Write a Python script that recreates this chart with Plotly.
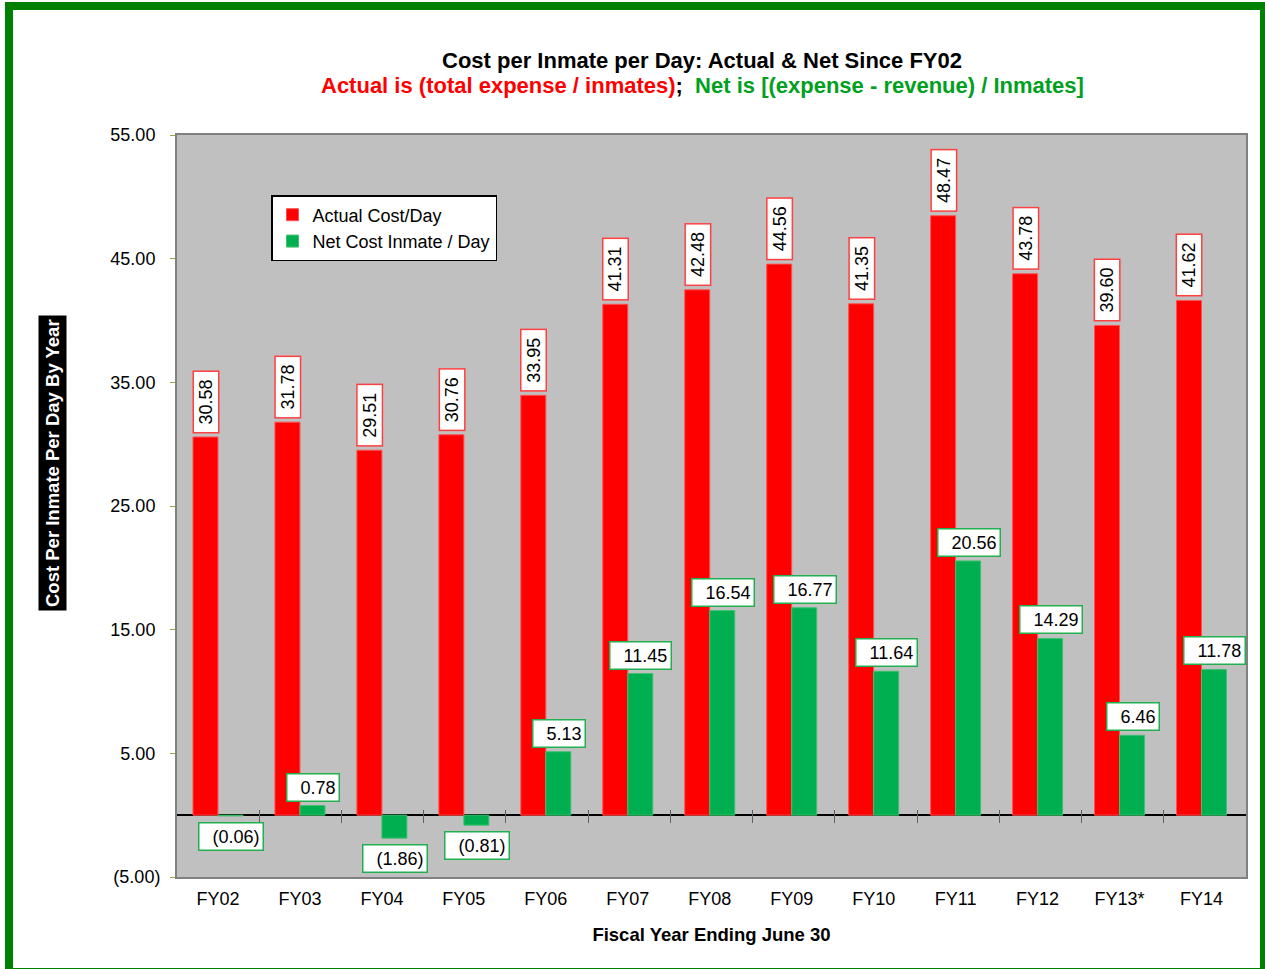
import plotly.graph_objects as go

years = ["FY02", "FY03", "FY04", "FY05", "FY06", "FY07", "FY08", "FY09", "FY10", "FY11", "FY12", "FY13*", "FY14"]
actual = [30.58, 31.78, 29.51, 30.76, 33.95, 41.31, 42.48, 44.56, 41.35, 48.47, 43.78, 39.60, 41.62]
net = [-0.06, 0.78, -1.86, -0.81, 5.13, 11.45, 16.54, 16.77, 11.64, 20.56, 14.29, 6.46, 11.78]
ytick_vals = [-5, 5, 15, 25, 35, 45, 55]

RED = "#FF0000"
GREEN = "#00B050"
FONT = "Arial, Liberation Sans, sans-serif"

W, H = 1265, 969
L, R, T, B = 177, 19, 135, 92
pw, ph = W - L - R, H - T - B

def fmt(v):
    return f"({abs(v):.2f})" if v < 0 else f"{v:.2f}"

def tick_fmt(v):
    return f"({abs(v):.2f})" if v < 0 else f"{v:.2f}&nbsp;"

def px_to_paper_x(px):
    return (px - L) / pw

def px_to_paper_y(py):
    return (H - B - py) / ph

fig = go.Figure()
fig.add_trace(go.Bar(x=years, y=actual, name="Actual Cost/Day", marker=dict(color=RED, line=dict(color="#FF5050", width=1))))
fig.add_trace(go.Bar(x=years, y=net, name="Net Cost Inmate / Day", marker=dict(color=GREEN, line=dict(color="#40C070", width=1))))
# helper trace so the category-boundary tick axis at zero is drawn
fig.add_trace(go.Scatter(x=[0], y=[0], xaxis="x2", mode="none", showlegend=False, hoverinfo="skip"))

annotations = []
for yr, a, n in zip(years, actual, net):
    annotations.append(dict(x=yr, y=a, xref="x", yref="y", text=fmt(a), showarrow=False,
                            textangle=-90, xanchor="center", yanchor="bottom", xshift=-12, yshift=4,
                            width=56, height=20,
                            font=dict(family=FONT, size=18, color="black"),
                            bgcolor="white", bordercolor="#FF4040", borderwidth=1.5, borderpad=2))
    common = dict(x=yr, y=n, xref="x", yref="y", text="&nbsp;&nbsp;" + fmt(n), showarrow=False,
                  xanchor="center", xshift=13,
                  font=dict(family=FONT, size=18, color="black"),
                  bgcolor="white", bordercolor="#20B050", borderwidth=1.5, borderpad=3)
    if n >= 0:
        annotations.append(dict(common, yanchor="bottom", yshift=4))
    else:
        annotations.append(dict(common, yanchor="top", yshift=-6))

# y-axis title box
annotations.append(dict(x=px_to_paper_x(52), y=px_to_paper_y(463), xref="paper", yref="paper",
                        text="<b>Cost Per Inmate Per Day By Year</b>", showarrow=False, textangle=-90,
                        xanchor="center", yanchor="middle", font=dict(family=FONT, size=18.5, color="white"),
                        bgcolor="black", borderpad=3))
# title lines
annotations.append(dict(x=px_to_paper_x(702), y=px_to_paper_y(61), xref="paper", yref="paper",
                        text="<b>Cost per Inmate per Day: Actual &amp; Net Since FY02</b>", showarrow=False,
                        xanchor="center", yanchor="middle", font=dict(family=FONT, size=22, color="black")))
annotations.append(dict(x=px_to_paper_x(702), y=px_to_paper_y(86), xref="paper", yref="paper",
                        text="<b><span style='color:#FF0000'>Actual is (total expense / inmates)</span>;  "
                             "<span style='color:#00A020'>Net is [(expense - revenue) / Inmates]</span></b>",
                        showarrow=False, xanchor="center", yanchor="middle",
                        font=dict(family=FONT, size=22, color="black")))

shapes = [
    dict(type="rect", xref="paper", yref="paper",
         x0=px_to_paper_x(9), x1=px_to_paper_x(1264), y0=px_to_paper_y(6), y1=px_to_paper_y(972),
         line=dict(color="#008000", width=8), fillcolor="rgba(0,0,0,0)", layer="below"),
]

fig.update_layout(
    width=W, height=H,
    margin=dict(l=L, r=R, t=T, b=B),
    paper_bgcolor="white",
    plot_bgcolor="#C0C0C0",
    barmode="group",
    bargap=0.39,
    bargroupgap=0,
    font=dict(family=FONT, size=18, color="black"),
    showlegend=True,
    legend=dict(x=px_to_paper_x(271), y=px_to_paper_y(195), xanchor="left", yanchor="top",
                bgcolor="white", bordercolor="black", borderwidth=1.5,
                font=dict(family=FONT, size=18, color="black"), itemwidth=30, tracegroupgap=4),
    xaxis=dict(title=dict(text="<b>Fiscal Year Ending June 30</b>", font=dict(size=18.5), standoff=20),
               showgrid=False, ticks="outside", ticklen=4, tickcolor="rgba(0,0,0,0)",
               showline=True, mirror=True, linecolor="#808080", linewidth=2,
               tickfont=dict(size=18), zeroline=False),
    yaxis=dict(range=[-5, 55], tickvals=ytick_vals, ticktext=[tick_fmt(v) for v in ytick_vals],
               showgrid=False, zeroline=True, zerolinecolor="black", zerolinewidth=1.5,
               showline=True, mirror=True, linecolor="#808080", linewidth=2,
               ticks="outside", ticklen=5, tickcolor="#A0A040", tickfont=dict(size=18),
               ticklabelstandoff=6),
    xaxis2=dict(overlaying="x", anchor="free", position=px_to_paper_y(809), range=[-0.5, 12.5],
                tickvals=[i + 0.5 for i in range(12)], ticks="outside", ticklen=13, tickcolor="#606060",
                showticklabels=False, showgrid=False, showline=False, zeroline=False, fixedrange=True),
    annotations=annotations,
    shapes=shapes,
)

fig.write_html("out.html", config={"displayModeBar": False})
with open("out.html", "r", encoding="utf-8") as f:
    html = f.read()
html = html.replace("<body>", '<body style="margin:0;padding:0;overflow:hidden">', 1)
with open("out.html", "w", encoding="utf-8") as f:
    f.write(html)
